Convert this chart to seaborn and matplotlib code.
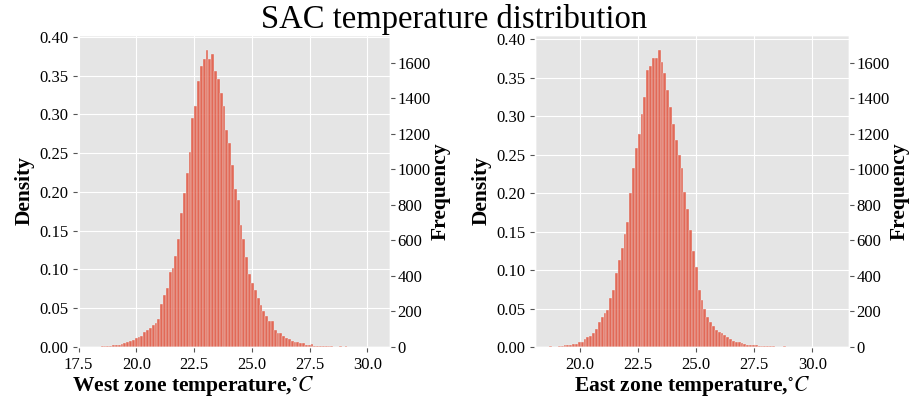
import numpy as np
import pandas as pd
import matplotlib
matplotlib.use("Agg")
import matplotlib.pyplot as plt
from matplotlib.ticker import MultipleLocator, FormatStrFormatter
import seaborn as sns

# Histogram counts per bin (100 equal bins over each zone's temperature range)
n_bins = 100
west_range = (18.09, 30.36)
east_range = (18.68, 30.97)

west_counts = [
    2, 1, 2, 3, 7, 7, 3, 9, 11, 11,
    17, 23, 27, 36, 40, 53, 58, 63, 85, 94,
    108, 121, 134, 157, 242, 291, 331, 422, 443, 511,
    609, 757, 869, 982, 1098, 1291, 1358, 1497, 1581, 1621,
    1673, 1621, 1647, 1551, 1507, 1429, 1358, 1223, 1147, 1026,
    887, 829, 685, 609, 507, 412, 358, 318, 273, 238,
    202, 174, 148, 144, 98, 76, 76, 63, 53, 45,
    34, 29, 26, 23, 23, 11, 11, 15, 7, 6,
    6, 6, 6, 6, 6, 2, 1, 6, 1, 6,
    1, 0, 1, 0, 0, 1, 0, 0, 0, 1,
]

east_counts = [
    6, 1, 2, 6, 7, 9, 13, 13, 15, 17,
    28, 30, 47, 56, 60, 77, 103, 141, 171, 193,
    210, 278, 321, 419, 492, 556, 638, 702, 869, 1006,
    1121, 1198, 1309, 1408, 1558, 1579, 1626, 1626, 1673, 1605,
    1540, 1446, 1352, 1254, 1164, 1083, 1006, 873, 775, 659,
    543, 449, 321, 265, 214, 171, 141, 120, 94, 86,
    77, 68, 56, 43, 34, 30, 28, 21, 19, 13,
    11, 11, 11, 7, 7, 7, 6, 6, 4, 2,
    1, 1, 6, 0, 0, 0, 0, 0, 0, 0,
    0, 0, 0, 0, 0, 0, 0, 0, 0, 1,
]

plt.style.use("ggplot")
plt.rcParams["font.family"] = "serif"
plt.rcParams["font.serif"] = ["Liberation Serif", "DejaVu Serif"]
plt.rcParams["mathtext.fontset"] = "stix"
plt.rcParams["axes.labelcolor"] = "black"
plt.rcParams["xtick.labelcolor"] = "black"
plt.rcParams["ytick.labelcolor"] = "black"

BAR = "#E24A33"

fig = plt.figure(figsize=(9.09, 3.97), dpi=100)
ax_w = fig.add_axes([0.0858, 0.126, 0.3432, 0.786])
ax_e = fig.add_axes([0.5886, 0.126, 0.3454, 0.786])


def draw_zone(ax, counts, rng, xlabel):
    width = (rng[1] - rng[0]) / n_bins
    centers = rng[0] + width * (np.arange(n_bins) + 0.5)
    df = pd.DataFrame({"temp": centers, "freq": counts})
    sns.histplot(data=df, x="temp", weights="freq", bins=n_bins, binrange=rng,
                 stat="density", color=BAR, alpha=0.55, ax=ax)
    twin = ax.twinx()
    sns.histplot(data=df, x="temp", weights="freq", bins=n_bins, binrange=rng,
                 stat="count", color=BAR, alpha=0.55, ax=twin)
    twin.grid(False)

    ax.xaxis.set_major_locator(MultipleLocator(2.5))
    ax.xaxis.set_major_formatter(FormatStrFormatter("%.1f"))
    ax.yaxis.set_major_locator(MultipleLocator(0.05))
    ax.yaxis.set_major_formatter(FormatStrFormatter("%.2f"))
    twin.yaxis.set_major_locator(MultipleLocator(200))

    ax.set_xlabel(xlabel, fontsize=15.5, fontweight="bold", labelpad=1)
    ax.set_ylabel("Density", fontsize=15.5, fontweight="bold", labelpad=3)
    twin.set_ylabel("Frequency", fontsize=15.5, fontweight="bold", labelpad=0)
    ax.tick_params(labelsize=12)
    twin.tick_params(labelsize=12, pad=2)
    return twin


draw_zone(ax_w, west_counts, west_range, r"West zone temperature,$^{\circ}C$")
ax_w.xaxis.set_label_coords(0.37, -0.085)
draw_zone(ax_e, east_counts, east_range, r"East zone temperature,$^{\circ}C$")
ax_e.xaxis.set_label_coords(0.5, -0.085)

fig.suptitle("SAC temperature distribution", fontsize=23.5, y=0.99)

fig.savefig("out.png", dpi=100)
